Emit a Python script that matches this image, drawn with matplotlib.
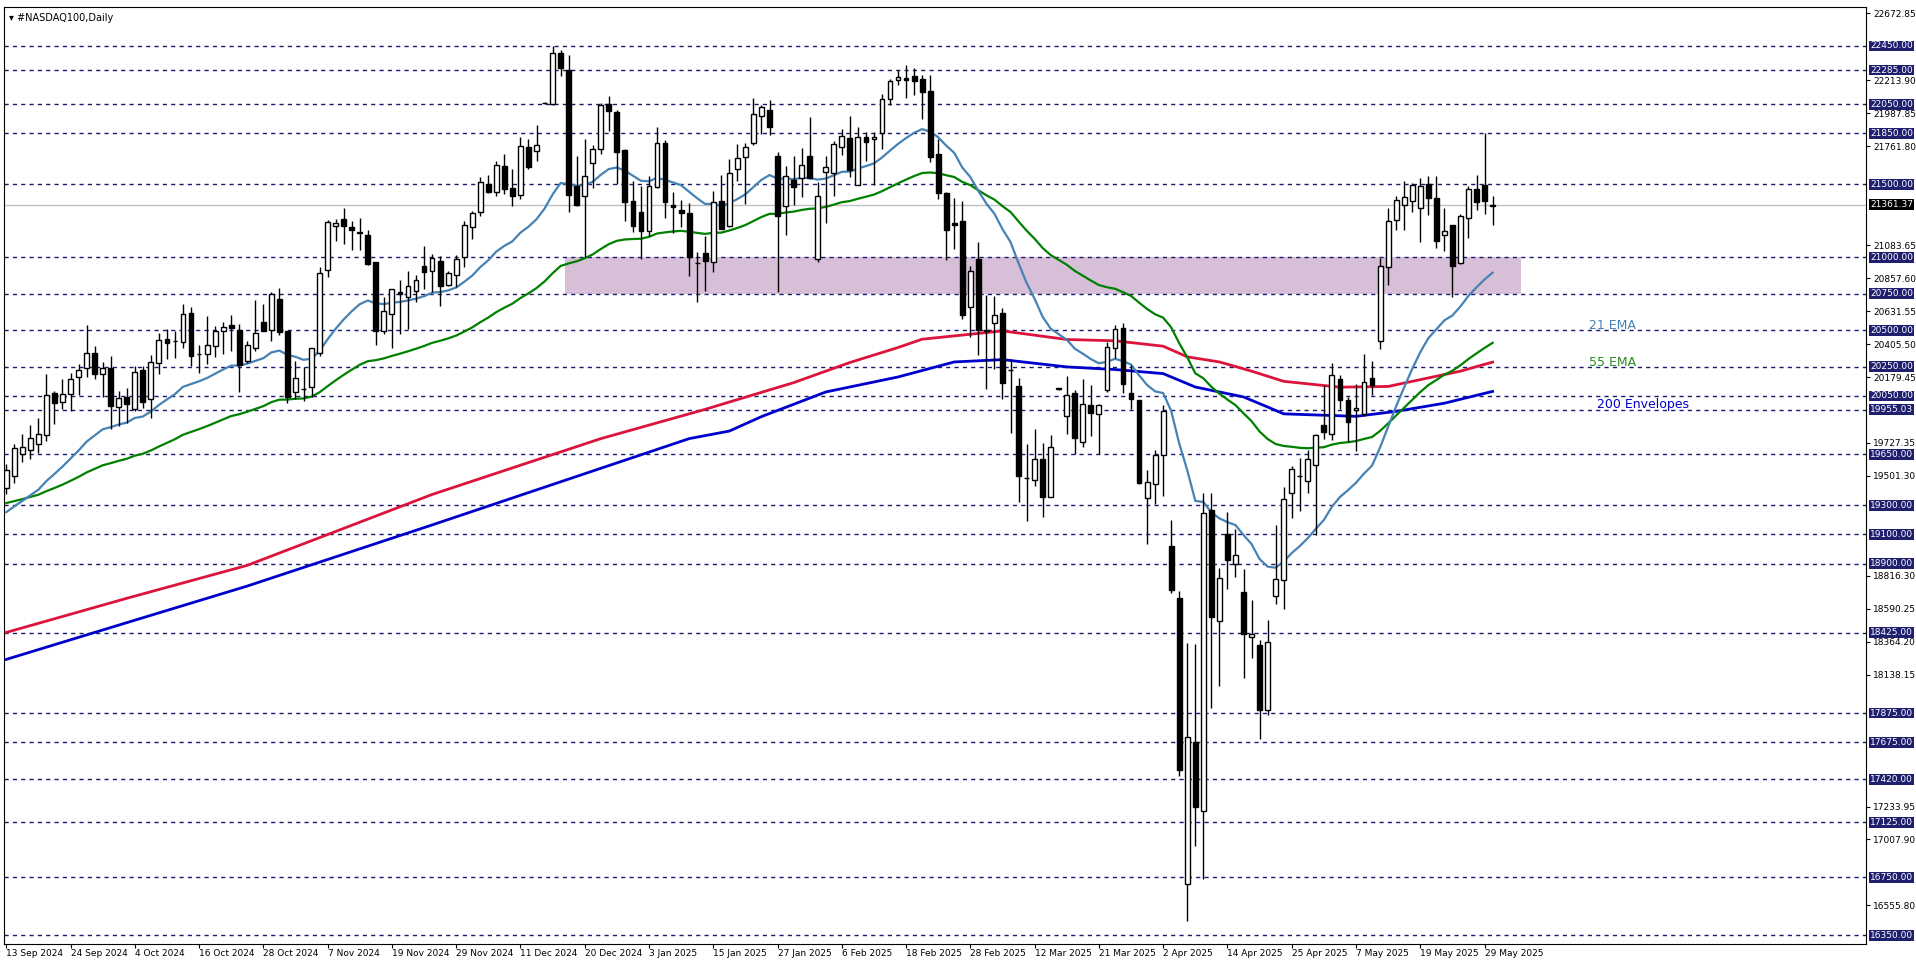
import numpy as np
import matplotlib.pyplot as plt
from matplotlib.patches import Rectangle
import matplotlib.transforms as mtransforms

# OHLC (one row per daily bar)
opens = [19416, 19500, 19650, 19680, 19720, 19780, 20068, 20011, 20061, 20182,
         20240, 20347, 20198, 20244, 19976, 20043, 19958, 20228, 20027, 20279,
         20443, 20430, 20423, 20622, 20338, 20336, 20389, 20496, 20535, 20503,
         20290, 20382, 20558, 20503, 20718, 20496, 20079, 20096, 20114, 20347,
         20915, 21213, 21263, 21206, 21172, 21153, 20966, 20492, 20615, 20764,
         20725, 20771, 20938, 20908, 20973, 20812, 20881, 21000, 21206, 21309,
         21504, 21451, 21630, 21474, 21431, 21756, 21728, 22058, 22053, 22404,
         22282, 21493, 21419, 21646, 21744, 22053, 21996, 21737, 21385, 21309,
         21179, 21481, 21783, 21362, 21325, 21302, 20963, 21027, 20966, 21385,
         21217, 21607, 21687, 21783, 21973, 22012, 21694, 21351, 21531, 21545,
         21692, 20989, 21584, 21577, 21756, 21820, 21499, 21829, 21813, 21852,
         22088, 22220, 22230, 22243, 22225, 22141, 21710, 21440, 21236, 21247,
         20663, 20986, 20502, 20551, 20620, 20228, 20118, 19488, 19470, 19614,
         19360, 20100, 19912, 20072, 19733, 19985, 19928, 20093, 20382, 20519,
         20070, 20020, 19351, 19448, 19647, 19020, 18666, 16701, 17676, 17200,
         19266, 18505, 19101, 18895, 18707, 18398, 18345, 17899, 18677, 18787,
         19381, 19500, 19469, 19577, 19849, 19792, 20164, 20025, 19951, 19927,
         20172, 20429, 20931, 21257, 21360, 21385, 21336, 21500, 21404, 21157,
         21225, 20963, 21270, 21466, 21495, 21353]
highs = [19580, 19720, 19786, 19848, 19901, 20198, 20084, 20164, 20210, 20267,
         20535, 20393, 20283, 20324, 20084, 20107, 20256, 20256, 20329, 20480,
         20508, 20496, 20679, 20661, 20398, 20595, 20531, 20558, 20604, 20542,
         20428, 20707, 20679, 20764, 20792, 20496, 20290, 20251, 20382, 20931,
         21256, 21263, 21339, 21250, 21268, 21188, 20966, 20725, 20782, 20847,
         20908, 20879, 21076, 21023, 21007, 20904, 21016, 21252, 21321, 21550,
         21566, 21664, 21710, 21607, 21824, 21813, 21909, 22065, 22450, 22424,
         22390, 21698, 21813, 21774, 22060, 22106, 22008, 21744, 21527, 21492,
         21557, 21893, 21806, 21447, 21394, 21373, 21034, 21144, 21453, 21566,
         21676, 21779, 21785, 22095, 22047, 22081, 21726, 21630, 21694, 21751,
         21962, 21515, 21698, 21795, 21882, 21969, 21893, 21859, 21859, 22122,
         22225, 22282, 22321, 22298, 22253, 22248, 21813, 21447, 21405, 21385,
         20938, 21108, 20741, 20734, 20654, 20306, 20176, 19722, 19821, 19729,
         19779, 20105, 20185, 20093, 20169, 20128, 19997, 20421, 20535, 20547,
         20260, 20020, 19539, 19681, 19986, 19200, 18712, 18357, 18350, 19383,
         19383, 18872, 19257, 19135, 18861, 18647, 18375, 18510, 19163, 19422,
         19572, 19626, 19682, 19792, 20123, 20275, 20192, 20042, 20130, 20336,
         20287, 20998, 21341, 21421, 21527, 21507, 21544, 21561, 21556, 21336,
         21225, 21299, 21488, 21564, 21855, 21421]
lows = [19380, 19450, 19600, 19620, 19660, 19740, 19855, 19958, 19947, 20054,
        20182, 20169, 20045, 19825, 19844, 19862, 19947, 19970, 19901, 20198,
        20302, 20313, 20382, 20256, 20205, 20267, 20320, 20336, 20359, 20079,
        20279, 20359, 20496, 20428, 20466, 20004, 20027, 20015, 20043, 20324,
        20863, 21114, 21092, 21053, 21053, 20947, 20400, 20473, 20382, 20478,
        20508, 20691, 20782, 20766, 20668, 20805, 20794, 20931, 21126, 21286,
        21442, 21424, 21435, 21350, 21401, 21607, 21664, 22055, 22047, 22243,
        21309, 21355, 21000, 21474, 21710, 21870, 21504, 21252, 21176, 20989,
        21144, 21474, 21270, 21167, 21206, 20874, 20691, 20771, 20902, 21199,
        21206, 21527, 21366, 21772, 21847, 21840, 20760, 21156, 21362, 21417,
        21538, 20966, 21236, 21424, 21703, 21550, 21499, 21660, 21499, 21744,
        22042, 22184, 22095, 22115, 21946, 21657, 21401, 20984, 21057, 20580,
        20457, 20329, 20100, 20237, 20027, 19798, 19321, 19195, 19431, 19223,
        19356, 20090, 19791, 19649, 19699, 19773, 19649, 20077, 20313, 20070,
        19963, 19447, 19035, 19310, 19363, 18700, 17441, 16451, 16966, 16738,
        17910, 18064, 18728, 18808, 18113, 18254, 17697, 17860, 18620, 18587,
        19216, 19258, 19381, 19094, 19755, 19750, 19959, 19731, 19670, 19915,
        20054, 20373, 20809, 21189, 21189, 21311, 21108, 21292, 21066, 21042,
        20728, 20956, 21135, 21323, 21299, 21225]
closes = [19540, 19690, 19700, 19760, 19790, 20057, 20004, 20066, 20169, 20228,
          20347, 20203, 20244, 19981, 20038, 19997, 20217, 20008, 20285, 20434,
          20411, 20425, 20615, 20324, 20336, 20400, 20492, 20526, 20519, 20263,
          20400, 20480, 20496, 20746, 20485, 20045, 20176, 20095, 20377, 20890,
          21240, 21233, 21213, 21190, 21167, 20954, 20492, 20629, 20782, 20748,
          20805, 20847, 20897, 20998, 20805, 20890, 20989, 21224, 21302, 21515,
          21451, 21637, 21469, 21424, 21763, 21618, 21774, 22062, 22401, 22298,
          21431, 21362, 21557, 21740, 22047, 22001, 21721, 21378, 21213, 21179,
          21488, 21783, 21383, 21344, 21302, 21000, 20960, 20977, 21378, 21195,
          21577, 21680, 21756, 21980, 22030, 21893, 21286, 21561, 21481, 21634,
          21545, 21419, 21618, 21779, 21831, 21600, 21824, 21790, 21829, 22088,
          22209, 22237, 22220, 22213, 22134, 21687, 21440, 21190, 21222, 20606,
          20904, 20501, 20498, 20604, 20139, 20225, 19500, 19485, 19614, 19360,
          19699, 20097, 20054, 19763, 19992, 19933, 19985, 20386, 20512, 20130,
          20031, 19454, 19459, 19647, 19947, 18720, 17482, 17711, 17234, 19250,
          18535, 18803, 18924, 18959, 18418, 18414, 17899, 18363, 18796, 19346,
          19547, 19498, 19620, 19780, 19804, 20196, 20025, 19873, 19964, 20147,
          20123, 20939, 21250, 21397, 21414, 21495, 21488, 21404, 21115, 21184,
          20939, 21282, 21466, 21380, 21385, 21361.37]

# 200 envelope lines, read at a few bars
env_bars = [0, 15, 30, 53, 74, 87, 90, 98, 105, 111, 114, 120, 124, 132, 138, 144,
            147, 151, 155, 159, 166, 172, 181, 185]
env_upper = [18428, 18662, 18888, 19374, 19757, 19958, 20008, 20141, 20279, 20382,
             20439, 20473, 20496, 20437, 20428, 20391, 20318, 20283, 20220, 20150,
             20110, 20115, 20220, 20282]
env_low_bars = [0, 15, 30, 53, 85, 90, 94, 102, 111, 118, 124, 132, 138, 144, 148,
                154, 157, 159, 168, 173, 179, 185]
env_lower = [18243, 18495, 18746, 19165, 19757, 19809, 19908, 20077, 20180, 20283,
             20299, 20249, 20231, 20203, 20111, 20043, 19974, 19927, 19910, 19944,
             20000, 20081]

ema21_start = 19224
ema55_start = 19307

date_labels = ['13 Sep 2024', '24 Sep 2024', '4 Oct 2024', '16 Oct 2024', '28 Oct 2024',
               '7 Nov 2024', '19 Nov 2024', '29 Nov 2024', '11 Dec 2024', '20 Dec 2024',
               '3 Jan 2025', '15 Jan 2025', '27 Jan 2025', '6 Feb 2025', '18 Feb 2025',
               '28 Feb 2025', '12 Mar 2025', '21 Mar 2025', '2 Apr 2025', '14 Apr 2025',
               '25 Apr 2025', '7 May 2025', '19 May 2025', '29 May 2025']

levels = [22450, 22285, 22050, 21850, 21500, 21000, 20750, 20500, 20250, 20050,
          19955.03, 19650, 19300, 19100, 18900, 18425, 17875, 17675, 17420, 17125,
          16750, 16350]
# price scale labels not hidden under the level boxes
scale_ticks = [22672.85, 22213.90, 21987.85, 21761.80, 21083.65, 20857.60, 20631.55,
               20405.50, 20179.45, 19727.35, 19501.30, 18816.30, 18590.25, 18364.20,
               18138.15, 17233.95, 17007.90, 16555.80]
last_price = 21361.37
zone = (20750, 21000)


def ema(vals, n, start):
    out = []
    a = 2.0 / (n + 1)
    e = start
    for v in vals:
        e = a * v + (1 - a) * e
        out.append(e)
    return np.array(out)


o = np.array(opens, float)
h = np.array(highs, float)
l = np.array(lows, float)
c = np.array(closes, float)
x = np.arange(len(c))

fig = plt.figure(figsize=(19.16, 9.63), dpi=100)
ax = fig.add_axes([0.002, 0.02, 0.972, 0.973])
ax.set_xlim(-0.3, 231.5)
ax.set_ylim(16293, 22719)

# support zone
ax.add_patch(Rectangle((69.5, zone[0]), 119, zone[1] - zone[0],
                       facecolor='#d8bfd8', edgecolor='none', zorder=1))

# levels
for lv in levels:
    ax.axhline(lv, color='#191970', lw=1, ls=(0, (3, 3)), zorder=2)
ax.axhline(last_price, color='#c0c0c0', lw=1, zorder=2)

# indicator lines
ax.plot(env_bars, env_upper, color='#dc143c', lw=2, zorder=3)
ax.plot(env_low_bars, env_lower, color='#0000cd', lw=2, zorder=3)
ax.plot(x, ema(c, 55, ema55_start), color='#008000', lw=1.6, zorder=3)
ax.plot(x, ema(c, 21, ema21_start), color='#4682b4', lw=1.6, zorder=3)

# candles
w = 0.6
for i in range(len(c)):
    ax.vlines(x[i], l[i], h[i], color='black', lw=1, zorder=4)
    bull = c[i] >= o[i]
    lo, hi = min(o[i], c[i]), max(o[i], c[i])
    ax.add_patch(Rectangle((x[i] - w / 2, lo), w, max(hi - lo, 4),
                           facecolor='white' if bull else 'black',
                           edgecolor='black', lw=1, zorder=5))

ax.text(197, 20530, '21 EMA', color='#4682b4', fontsize=9, va='center')
ax.text(197, 20280, '55 EMA', color='#2e8b22', fontsize=9, va='center')
ax.text(198, 19990, '200 Envelopes', color='#0000cd', fontsize=9, va='center')

# axes styling
ax.yaxis.tick_right()
ax.set_yticks(scale_ticks)
ax.set_yticklabels(['%.2f' % v for v in scale_ticks], fontsize=6.5)
ax.tick_params(axis='y', length=3, pad=2)
ax.set_xticks(np.arange(0, 185, 8))
ax.set_xticklabels(date_labels, fontsize=6.5, ha='left')
ax.tick_params(axis='x', length=3, pad=1)

trans = mtransforms.blended_transform_factory(ax.transAxes, ax.transData)
for lv in levels:
    ax.text(1.002, lv, '%.2f' % lv, transform=trans, fontsize=6.5, color='white',
            va='center', ha='left', clip_on=False, zorder=10,
            bbox=dict(boxstyle='square,pad=0.1', facecolor='#1f1f70', edgecolor='none'))
ax.text(1.002, last_price, '%.2f' % last_price, transform=trans, fontsize=6.5,
        color='white', va='center', ha='left', clip_on=False, zorder=11,
        bbox=dict(boxstyle='square,pad=0.1', facecolor='black', edgecolor='none'))

ax.text(0.003, 0.993, '\u25be #NASDAQ100,Daily', transform=ax.transAxes, fontsize=7,
        va='top', ha='left')

fig.savefig('out.png', dpi=100, facecolor='white')
